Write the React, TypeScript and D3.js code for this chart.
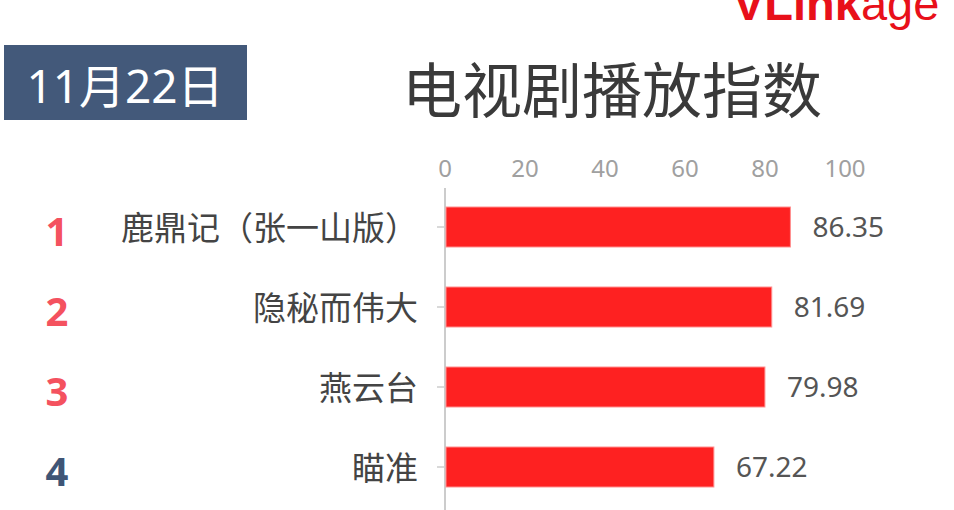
import React from "react";
import * as d3 from "d3";

const dateLabel = "11月22日";
const title = "电视剧播放指数";
const categories = ["鹿鼎记（张一山版）", "隐秘而伟大", "燕云台", "瞄准"];
const values = [86.35, 81.69, 79.98, 67.22];
const ranks = ["1", "2", "3", "4"];
const rankColors = ["#f4525f", "#f4525f", "#f4525f", "#3f5576"];
const xTicks = [0, 20, 40, 60, 80, 100];

const W = 954;
const H = 510;
const CJK = "'Microsoft YaHei', 'Noto Sans CJK SC', sans-serif";
const NUM = "'Segoe UI', 'Noto Sans', 'Noto Sans CJK SC', sans-serif";

export default function App() {
  const x = d3.scaleLinear().domain([0, 100]).range([445, 845]);
  const y = d3
    .scaleBand<string>()
    .domain(categories)
    .range([187, 507])
    .paddingInner(0.5)
    .paddingOuter(0.25);
  const bw = y.bandwidth();

  return (
    <svg
      width={W}
      height={H}
      style={{ position: "fixed", left: 0, top: 0, background: "#fff" }}
    >
      <rect x={0} y={0} width={W} height={H} fill="#fff" />
      {/* logo */}
      <text x={733} y={20} fontFamily="'Liberation Sans', Arial, sans-serif" fontSize={47} fill="#e8101a">
        <tspan fontWeight="bold">VLink</tspan>
        <tspan>age</tspan>
      </text>
      {/* date box */}
      <rect x={4} y={45} width={243} height={75} fill="#43597a" />
      <text
        x={125}
        y={86 + 0.36 * 46}
        textAnchor="middle"
        fontFamily={NUM}
        fontSize={46}
        fill="#fff"
      >
        {dateLabel}
      </text>
      {/* title */}
      <text
        x={612}
        y={90 + 0.38 * 60}
        textAnchor="middle"
        fontFamily={CJK}
        fontSize={60}
        fill="#3a3a3a"
      >
        {title}
      </text>
      {/* x tick labels */}
      {xTicks.map((t) => (
        <text
          key={t}
          x={x(t)}
          y={168 + 0.36 * 24}
          textAnchor="middle"
          fontFamily={NUM}
          fontSize={24}
          fill="#a0a0a0"
        >
          {t}
        </text>
      ))}
      {/* axis line */}
      <line x1={x(0)} x2={x(0)} y1={188} y2={H} stroke="#cccccc" strokeWidth={2} />
      {categories.map((c, i) => {
        const cy = (y(c) as number) + bw / 2;
        return (
          <g key={c}>
            <line x1={x(0) - 8} x2={x(0)} y1={cy} y2={cy} stroke="#cccccc" strokeWidth={1.5} />
            <rect
              x={x(0) + 1}
              y={y(c) as number}
              width={x(values[i]) - x(0) - 1}
              height={bw}
              fill="#fe2121"
              stroke="#ff9090"
              strokeWidth={1}
            />
            <text
              x={418}
              y={cy + 0.38 * 33}
              textAnchor="end"
              fontFamily={CJK}
              fontSize={33}
              fill="#444"
            >
              {c}
            </text>
            <text
              x={x(values[i]) + 22}
              y={cy + 0.36 * 28}
              fontFamily={NUM}
              fontSize={28}
              fill="#555"
            >
              {values[i].toFixed(2)}
            </text>
            <text
              x={57}
              y={cy + 5 + 0.36 * 40}
              textAnchor="middle"
              fontFamily="'Open Sans', 'Noto Sans', sans-serif"
              fontWeight="bold"
              fontSize={40}
              fill={rankColors[i]}
            >
              {ranks[i]}
            </text>
          </g>
        );
      })}
    </svg>
  );
}
